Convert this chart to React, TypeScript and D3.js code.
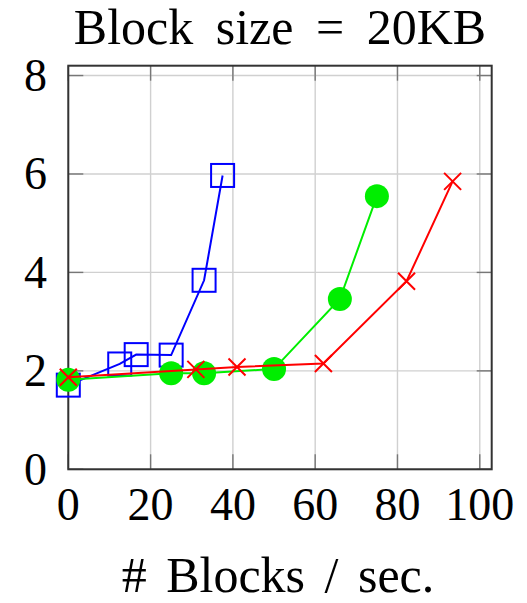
import * as d3 from 'd3';

// series
const blueX = [0, 12.5, 16.5, 25, 33, 37.5];
const blueY = [1.71, 2.14, 2.33, 2.32, 3.84, 5.97];
const greenX = [0, 25, 33, 50, 66, 75];
const greenY = [1.82, 1.95, 1.95, 2.04, 3.46, 5.55];
const redX = [0, 31, 41, 62, 82.2, 93.4];
const redY = [1.87, 2.03, 2.08, 2.15, 3.82, 5.85];

const xTicks = [0, 20, 40, 60, 80, 100];
const yTicks = [0, 2, 4, 6, 8];
const title = 'Block size = 20KB';
const xLabel = '# Blocks / sec.';

const W = 527,
	H = 603;
const font = '"Liberation Serif", "Times New Roman", serif';

const App = () => {
	const x = d3.scaleLinear().domain([0, 102.9]).range([68.3, 491.7]);
	const y = d3.scaleLinear().domain([0, 8.2]).range([469.3, 65.7]);
	const [x0, x1] = x.range();
	const [y0, y1] = y.range();
	const tick = 15;

	const line = d3
		.line<[number, number]>()
		.x((d) => x(d[0]))
		.y((d) => y(d[1]));
	const zip = (xs: number[], ys: number[]) =>
		xs.map((v, i) => [v, ys[i]] as [number, number]);

	const blue = zip(blueX, blueY);
	const green = zip(greenX, greenY);
	const red = zip(redX, redY);

	return (
		<svg
			width={W}
			height={H}
			style={{ position: 'absolute', left: 0, top: 0, background: '#fff' }}
		>
			{/* grid */}
			<g stroke='#d0d0d0' strokeWidth={1.4}>
				{xTicks.map((t) => (
					<line key={'gx' + t} x1={x(t)} x2={x(t)} y1={y0} y2={y1} />
				))}
				{yTicks.map((t) => (
					<line key={'gy' + t} x1={x0} x2={x1} y1={y(t)} y2={y(t)} />
				))}
			</g>
			{/* inner ticks on all sides */}
			<g stroke='#777' strokeWidth={1.4}>
				{xTicks.map((t) => (
					<g key={'tx' + t}>
						<line x1={x(t)} x2={x(t)} y1={y0} y2={y0 - tick} />
						<line x1={x(t)} x2={x(t)} y1={y1} y2={y1 + tick} />
					</g>
				))}
				{yTicks.map((t) => (
					<g key={'ty' + t}>
						<line x1={x0} x2={x0 + tick} y1={y(t)} y2={y(t)} />
						<line x1={x1} x2={x1 - tick} y1={y(t)} y2={y(t)} />
					</g>
				))}
			</g>
			<rect
				x={x0}
				y={y1}
				width={x1 - x0}
				height={y0 - y1}
				fill='none'
				stroke='#333'
				strokeWidth={2}
			/>

			{/* blue squares */}
			<path d={line(blue) ?? ''} fill='none' stroke='#0000ff' strokeWidth={2} />
			{blue.map((d, i) => (
				<rect
					key={'b' + i}
					x={x(d[0]) - 11.5}
					y={y(d[1]) - 11.5}
					width={23}
					height={23}
					fill='none'
					stroke='#0000ff'
					strokeWidth={2}
				/>
			))}

			{/* green circles */}
			<path d={line(green) ?? ''} fill='none' stroke='#00ee00' strokeWidth={2} />
			{green.map((d, i) => (
				<circle key={'g' + i} cx={x(d[0])} cy={y(d[1])} r={12} fill='#00ee00' />
			))}

			{/* red crosses */}
			<path d={line(red) ?? ''} fill='none' stroke='#ff0000' strokeWidth={2} />
			{red.map((d, i) => (
				<path
					key={'r' + i}
					d={`M${x(d[0]) - 8.5},${y(d[1]) - 8.5}l17,17M${x(d[0]) - 8.5},${
						y(d[1]) + 8.5
					}l17,-17`}
					stroke='#ff0000'
					strokeWidth={2}
				/>
			))}

			{/* tick labels */}
			<g fontFamily={font} fontSize={46} fill='#000'>
				{xTicks.map((t) => (
					<text key={'lx' + t} x={x(t)} y={520} textAnchor='middle'>
						{t}
					</text>
				))}
				{yTicks.map((t) => (
					<text key={'ly' + t} x={47} y={y(t) + 15.5} textAnchor='end'>
						{t}
					</text>
				))}
			</g>

			<text
				x={280}
				y={44}
				textAnchor='middle'
				fontFamily={font}
				fontSize={50}
				style={{ wordSpacing: '10px' }}
			>
				{title}
			</text>
			<text
				x={278}
				y={592}
				textAnchor='middle'
				fontFamily={font}
				fontSize={50}
				style={{ wordSpacing: '7px' }}
			>
				{xLabel}
			</text>
		</svg>
	);
};

export default App;
